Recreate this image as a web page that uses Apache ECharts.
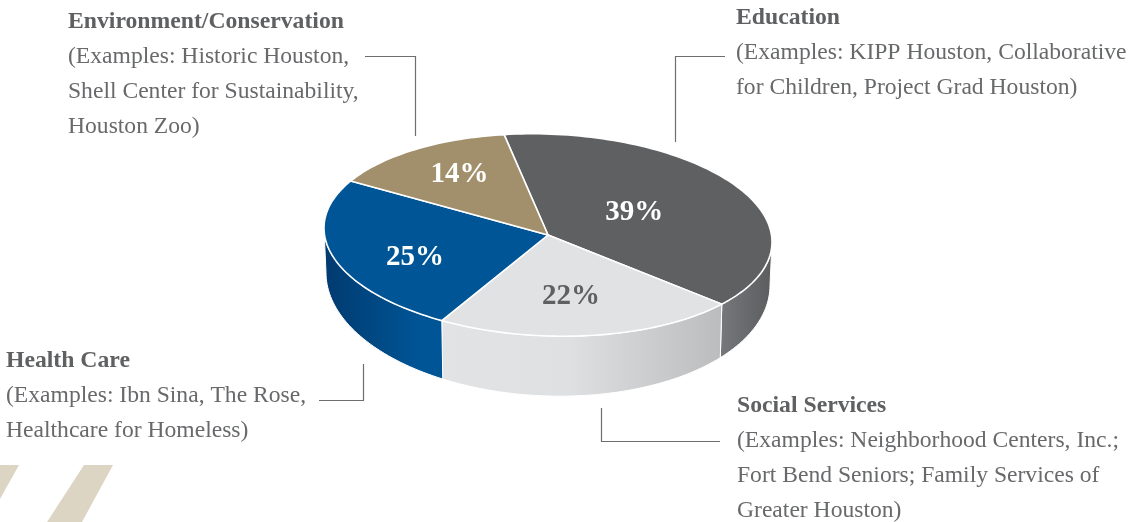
<!DOCTYPE html>
<html><head><meta charset="utf-8">
<style>html,body{margin:0;padding:0;background:#fff}#c{width:1141px;height:522px}</style>
<script src="https://cdn.jsdelivr.net/npm/echarts@6/dist/echarts.min.js"></script>
</head><body><div id="c"></div>
<script>
// ---- data
const categories = ['Education','Social Services','Health Care','Environment/Conservation'];
const values = [39,22,25,14];
const examples = [
  ['(Examples: KIPP Houston, Collaborative','for Children, Project Grad Houston)'],
  ['(Examples: Neighborhood Centers, Inc.;','Fort Bend Seniors; Family Services of','Greater Houston)'],
  ['(Examples: Ibn Sina, The Rose,','Healthcare for Homeless)'],
  ['(Examples: Historic Houston,','Shell Center for Sustainability,','Houston Zoo)']
];
// ---- styles / layout
const topColors = ['#5f6062','#e1e2e4','#005596','#a28f6b'];
const labelColors = ['#ffffff','#5f6062','#ffffff','#ffffff'];
const wallStops = [
  [[0,'#77787b'],[1,'#5b5c5e']],
  [[0,'#e2e3e5'],[0.45,'#dfe0e2'],[1,'#bbbcbe']],
  [[0,'#013a6f'],[0.8,'#005596'],[1,'#005596']],
  [[0,'#a28f6b'],[1,'#a28f6b']]
];
const labelFrac = [[0.45,0.43],[0.525,0.62],[0.62,0.76],[0.665,0.75]];
const textPos = [[736,18],[737,406],[6,361],[68,22]];
const LINE = 35;
const leaders = [
  [[725,56.5],[675.5,56.5],[675.5,142]],
  [[601.5,408],[601.5,441.5],[720,441.5]],
  [[319,400.5],[363.5,400.5],[363.5,364]],
  [[365,56.5],[415.5,56.5],[415.5,136]]
];
const stripes = [[[0,465],[19,465],[0,499]],[[84,465],[113,465],[82,522],[47,522]]];
const TOP={cx:548,cy:235,rx:224,ry:101,tilt:7};
const BOTTOM={cx:548,cy:279,rx:222,ry:117,tilt:6.3};
const START=-11.3;
const rad=d=>d*Math.PI/180;
const pt=(t,e)=>[e.cx+e.rx*Math.sin(rad(t)), e.cy-e.ry*Math.cos(rad(t))+e.tilt*Math.sin(rad(t))];
const total=values.reduce((a,b)=>a+b,0);
function range(i){
  let s=START; for(let k=0;k<i;k++) s+=values[k]/total*360;
  return [s, s+values[i]/total*360];
}
function arc(a,b,e){ const n=Math.max(2,Math.ceil((b-a)/1.5)), out=[];
  for(let j=0;j<=n;j++) out.push(pt(a+(b-a)*j/n,e)); return out; }

function renderWall(p,api){
  const i=p.dataIndex; let [a,b]=range(i);
  a=Math.max(a,90); b=Math.min(b,270);
  if(b<=a) return {type:'group',children:[]};
  const pts=arc(a,b,TOP).concat(arc(a,b,BOTTOM).reverse());
  return {type:'polygon',shape:{points:pts},style:{
    fill:new echarts.graphic.LinearGradient(0,0,1,0,wallStops[i].map(s=>({offset:s[0],color:s[1]}))),
    stroke:'#fff',lineWidth:1}};
}
function renderTop(p,api){
  const i=p.dataIndex,[a,b]=range(i);
  const pts=[[TOP.cx,TOP.cy]].concat(arc(a,b,TOP));
  const mid=(a+b)/2, f=labelFrac[i];
  return {type:'group',children:[
    {type:'polygon',shape:{points:pts},style:{fill:topColors[i],stroke:'#fff',lineWidth:1.6,lineJoin:'round'}},
    {type:'text',z2:10,style:{
      text:api.value(0)+'%',
      x:TOP.cx+TOP.rx*f[0]*Math.sin(rad(mid)),
      y:TOP.cy-TOP.ry*f[1]*Math.cos(rad(mid)),
      fill:labelColors[i],font:'bold 29px "Liberation Serif"',align:'center',verticalAlign:'middle'}}
  ]};
}
const graphic=[];
stripes.forEach(s=>graphic.push({type:'polygon',silent:true,shape:{points:s},style:{fill:'#ddd5c4'}}));
leaders.forEach(l=>graphic.push({type:'polyline',silent:true,shape:{points:l},style:{stroke:'#6d6e70',lineWidth:1.2,fill:null}}));
categories.forEach((c,i)=>{
  const [x,y]=textPos[i];
  graphic.push({type:'text',silent:true,style:{text:c,x,y,fill:'#5f6062',font:'bold 23.7px "Liberation Serif"',verticalAlign:'middle'}});
  examples[i].forEach((t,j)=>graphic.push({type:'text',silent:true,style:{text:t,x,y:y+LINE*(j+1),fill:'#68696b',font:'23.6px "Liberation Serif"',verticalAlign:'middle'}}));
});
const chart=echarts.init(document.getElementById('c'),null,{renderer:'canvas'});
chart.setOption({
  animation:false,
  graphic,
  series:[
    {type:'custom',coordinateSystem:'none',silent:true,z:1,renderItem:renderWall,data:values.map(v=>[v])},
    {type:'custom',coordinateSystem:'none',silent:true,z:2,renderItem:renderTop,data:values.map(v=>[v])}
  ]
});
</script></body></html>
